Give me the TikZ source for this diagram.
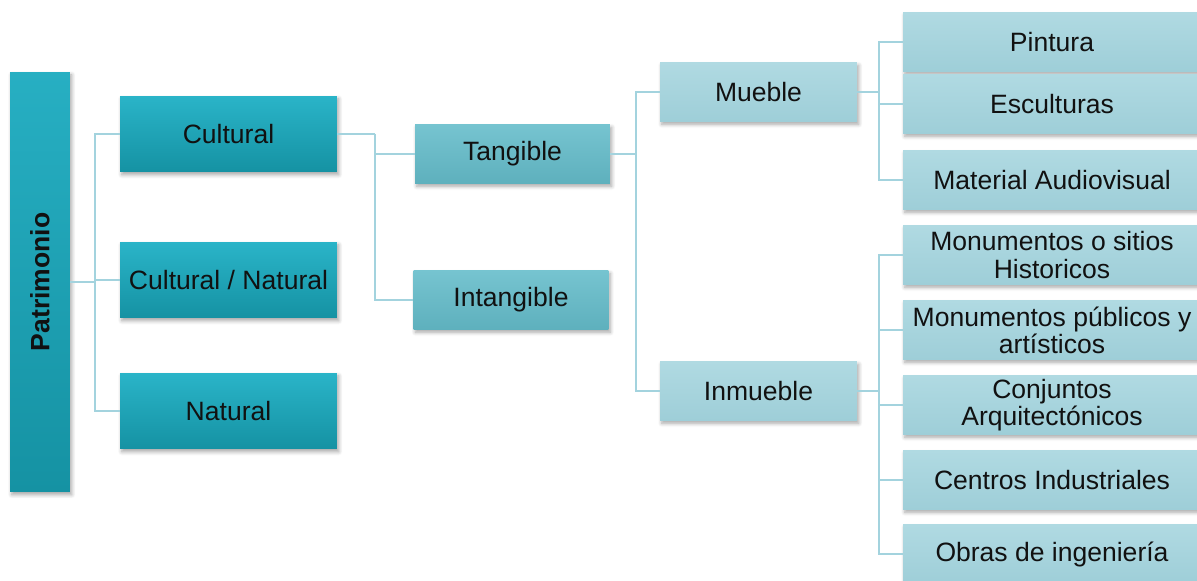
\documentclass[tikz,border=0pt]{standalone}
\usepackage{fontspec}
\setmainfont{Liberation Sans}
\usetikzlibrary{shadows.blur}

\definecolor{tealA}{HTML}{2AB4C8}
\definecolor{tealB}{HTML}{1592A3}
\definecolor{midA}{HTML}{76C4D0}
\definecolor{midB}{HTML}{5EB0BD}
\definecolor{paleA}{HTML}{B0DAE2}
\definecolor{paleB}{HTML}{9ECED8}
\definecolor{linkcol}{HTML}{A3D3DE}
\definecolor{ink}{HTML}{111111}

\tikzset{
  box/.style={rectangle, inner sep=0pt, align=center, text=ink,
    font=\fontsize{15.1pt}{15.4pt}\selectfont,
    blur shadow={shadow blur steps=6, shadow xshift=1pt, shadow yshift=-1.6pt, shadow opacity=35}},
  lvlone/.style={box, top color=tealA, bottom color=tealB, minimum width=4.34cm, minimum height=1.52cm},
  lvltwo/.style={box, top color=midA, bottom color=midB, minimum width=3.9cm, minimum height=1.18cm},
  lvlthree/.style={box, top color=paleA, bottom color=paleB, minimum width=3.94cm, minimum height=1.18cm},
  leaf/.style={box, top color=paleA, bottom color=paleB, minimum width=5.96cm, minimum height=1.18cm},
  link/.style={draw=linkcol, line width=1.1pt}
}

\begin{document}
\begin{tikzpicture}[x=0.02cm, y=-0.02cm]
  \useasboundingbox (0,0) rectangle (1197,581);

  % root column
  \node[box, top color=tealA!85!tealB, bottom color=tealB, minimum width=1.2cm, minimum height=8.4cm] (pat) at (40,282) {};
  \node[rotate=90, text=ink, font=\bfseries\fontsize{15.1pt}{15.4pt}\selectfont] (pattxt) at (pat.center) {Patrimonio};

  % first level
  \node[lvlone] (cul) at (228.5,134) {Cultural};
  \node[lvlone] (cun) at (228.5,280) {Cultural / Natural};
  \node[lvlone] (nat) at (228.5,411) {Natural};

  % second level
  \node[lvltwo] (tan) at (512.5,154) {Tangible};
  \node[lvltwo] (int) at (511,300) {Intangible};

  % third level
  \node[lvlthree] (mue) at (758.5,92) {Mueble};
  \node[lvlthree] (inm) at (758.5,391) {Inmueble};

  % leaves
  \node[leaf] (pin) at (1052,42) {Pintura};
  \node[leaf] (esc) at (1052,104) {Esculturas};
  \node[leaf] (mat) at (1052,180) {Material Audiovisual};
  \node[leaf] (mon) at (1052,255) {Monumentos o sitios\\Historicos};
  \node[leaf] (pub) at (1052,330) {Monumentos públicos y\\artísticos};
  \node[leaf] (con) at (1052,405) {Conjuntos\\Arquitectónicos};
  \node[leaf] (cen) at (1052,480) {Centros Industriales};
  \node[leaf] (obr) at (1052,554) {Obras de ingeniería};

  % connectors
  \begin{scope}[on background layer/.try]
    \path[link] (pat.east) -- ++(25,0) coordinate (j1);
    \draw[link] (j1) |- (cul.west);
    \draw[link] (j1) |- (cun.west);
    \draw[link] (j1) |- (nat.west);

    \path[link] (cul.east) -- ++(38,0) coordinate (j2);
    \draw[link] (j2) |- (tan.west);
    \draw[link] (j2) |- (int.west);

    \path[link] (tan.east) -- ++(26,0) coordinate (j3);
    \draw[link] (j3) |- (mue.west);
    \draw[link] (j3) |- (inm.west);

    \path[link] (mue.east) -- ++(22,0) coordinate (j4);
    \draw[link] (j4) |- (pin.west);
    \draw[link] (j4) |- (esc.west);
    \draw[link] (j4) |- (mat.west);

    \path[link] (inm.east) -- ++(22,0) coordinate (j5);
    \draw[link] (j5) |- (mon.west);
    \draw[link] (j5) |- (pub.west);
    \draw[link] (j5) |- (con.west);
    \draw[link] (j5) |- (cen.west);
    \draw[link] (j5) |- (obr.west);
  \end{scope}
  \draw[link] (pat.east) -- (j1);
  \draw[link] (cul.east) -- (j2);
  \draw[link] (tan.east) -- (j3);
  \draw[link] (mue.east) -- (j4);
  \draw[link] (inm.east) -- (j5);
\end{tikzpicture}
\end{document}
